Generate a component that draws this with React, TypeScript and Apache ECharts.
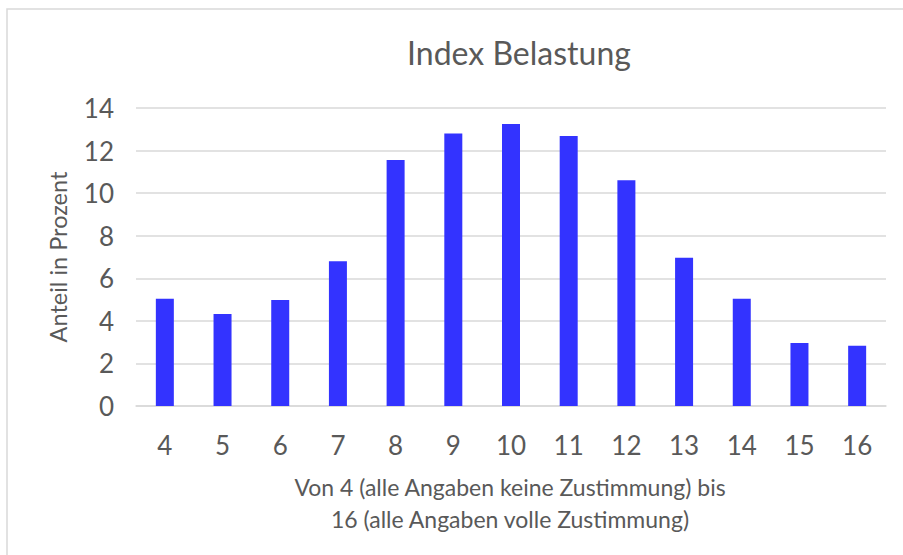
import React, { useEffect, useRef } from "react";
import * as echarts from "echarts";

const categories = ["4", "5", "6", "7", "8", "9", "10", "11", "12", "13", "14", "15", "16"];
const values = [5.04, 4.32, 4.98, 6.8, 11.56, 12.8, 13.25, 12.69, 10.6, 6.97, 5.04, 2.96, 2.83];
const titleText = "Index Belastung";
const yAxisTitle = "Anteil in Prozent";
const xAxisTitle = "Von 4 (alle Angaben keine Zustimmung) bis\n16 (alle Angaben volle Zustimmung)";

const FONT = "Lato, 'Open Sans', sans-serif";
const TXT = "#595959";

export default function App() {
  const ref = useRef<HTMLDivElement>(null);
  useEffect(() => {
    document.body.style.margin = "0";
    const chart = echarts.init(ref.current!, undefined, { renderer: "svg" });
    chart.setOption({
      animation: false,
      backgroundColor: "#ffffff",
      grid: { left: 136, right: 17, top: 108, bottom: 149 },
      xAxis: {
        type: "category",
        data: categories,
        axisLine: { lineStyle: { color: "#d9d9d9", width: 1.5 } },
        axisTick: { show: false },
        axisLabel: { color: TXT, fontSize: 26, fontFamily: FONT, margin: 26 },
      },
      yAxis: {
        type: "value",
        min: 0,
        max: 14,
        interval: 2,
        axisLine: { show: false },
        axisTick: { show: false },
        axisLabel: { color: TXT, fontSize: 26, fontFamily: FONT, margin: 22 },
        splitLine: { lineStyle: { color: "#d9d9d9", width: 1.5 } },
      },
      series: [
        {
          type: "bar",
          data: values,
          barWidth: 18,
          itemStyle: { color: "#3333ff" },
        },
      ],
      graphic: [
        {
          type: "rect",
          shape: { x: 7, y: 9, width: 910, height: 560 },
          style: { fill: "none", stroke: "#d9d9d9", lineWidth: 1.5 },
          silent: true,
        },
        {
          type: "text",
          x: 519,
          y: 52,
          style: {
            text: titleText,
            fill: TXT,
            font: `32px ${FONT}`,
            textAlign: "center",
            textVerticalAlign: "middle",
          },
        },
        {
          type: "text",
          x: 510,
          y: 503,
          style: {
            text: xAxisTitle,
            fill: TXT,
            font: `23px ${FONT}`,
            lineHeight: 32,
            textAlign: "center",
            textVerticalAlign: "middle",
          },
        },
        {
          type: "text",
          x: 58,
          y: 257,
          rotation: Math.PI / 2,
          style: {
            text: yAxisTitle,
            fill: TXT,
            font: `23.5px ${FONT}`,
            textAlign: "center",
            textVerticalAlign: "middle",
          },
        },
      ],
    });
    return () => chart.dispose();
  }, []);
  return <div ref={ref} style={{ width: 903, height: 555 }} />;
}
